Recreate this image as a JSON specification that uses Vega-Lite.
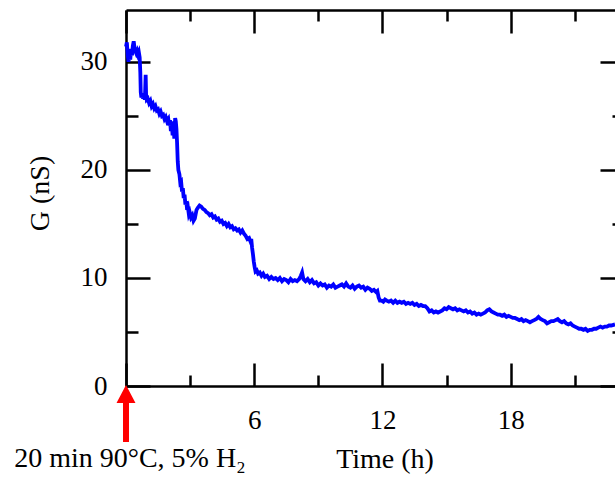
{
  "$schema": "https://vega.github.io/schema/vega-lite/v6.json",
  "width": 489,
  "height": 376,
  "autosize": {"type": "none"},
  "padding": {"left": 126, "top": 10, "right": 0, "bottom": 91},
  "background": "white",
  "config": {
    "view": {"stroke": null},
    "font": "Liberation Serif",
    "axis": {
      "grid": false,
      "domainColor": "black",
      "domainWidth": 2.5,
      "tickColor": "black",
      "tickWidth": 2.5,
      "labelColor": "black",
      "titleColor": "black",
      "labelFont": "Liberation Serif",
      "titleFont": "Liberation Serif",
      "labelFontSize": 27,
      "titleFontSize": 28,
      "titleFontWeight": "normal",
      "labelFlush": false,
      "labelOverlap": false
    }
  },
  "datasets": {
    "g": [
      {"t":0.00,"g":31.4},{"t":0.04,"g":31.8},{"t":0.08,"g":30.6},{"t":0.12,"g":30.0},{"t":0.16,"g":31.0},{"t":0.20,"g":30.2},{"t":0.24,"g":31.2},{"t":0.28,"g":30.6},{"t":0.32,"g":31.5},{"t":0.36,"g":31.9},{"t":0.40,"g":31.3},{"t":0.44,"g":31.0},{"t":0.48,"g":30.8},{"t":0.52,"g":31.0},{"t":0.56,"g":30.7},{"t":0.60,"g":30.9},{"t":0.64,"g":30.4},{"t":0.67,"g":29.0},{"t":0.69,"g":27.2},{"t":0.72,"g":26.7},{"t":0.76,"g":27.1},{"t":0.80,"g":26.6},{"t":0.84,"g":26.9},{"t":0.88,"g":26.5},{"t":0.90,"g":27.5},{"t":0.92,"g":28.8},{"t":0.94,"g":27.0},{"t":0.97,"g":26.5},
      {"t":1.02,"g":26.6},{"t":1.08,"g":26.2},{"t":1.14,"g":26.4},{"t":1.20,"g":25.9},{"t":1.26,"g":26.1},{"t":1.32,"g":25.7},{"t":1.38,"g":25.9},{"t":1.44,"g":25.5},{"t":1.50,"g":25.6},{"t":1.56,"g":25.2},{"t":1.62,"g":25.4},{"t":1.68,"g":25.0},{"t":1.74,"g":25.1},{"t":1.80,"g":24.7},{"t":1.86,"g":24.9},{"t":1.92,"g":24.5},{"t":1.98,"g":24.7},{"t":2.02,"g":24.1},{"t":2.06,"g":24.6},{"t":2.10,"g":23.6},{"t":2.14,"g":24.4},{"t":2.18,"g":23.2},{"t":2.22,"g":24.5},{"t":2.26,"g":22.9},{"t":2.30,"g":24.8},{"t":2.33,"g":24.5},{"t":2.36,"g":23.8},{"t":2.39,"g":22.5},{"t":2.42,"g":20.8},{"t":2.45,"g":20.0},{"t":2.50,"g":19.6},{"t":2.54,"g":18.8},{"t":2.58,"g":18.9},{"t":2.62,"g":18.0},{"t":2.66,"g":18.3},{"t":2.70,"g":17.4},{"t":2.74,"g":17.7},{"t":2.78,"g":16.8},{"t":2.82,"g":17.1},{"t":2.86,"g":16.3},{"t":2.90,"g":16.5},{"t":2.94,"g":15.9},{"t":2.98,"g":16.1},
      {"t":3.04,"g":15.6},{"t":3.10,"g":15.8},{"t":3.16,"g":15.3},{"t":3.22,"g":15.5},{"t":3.26,"g":15.9},{"t":3.30,"g":16.3},{"t":3.36,"g":16.5},{"t":3.44,"g":16.7},{"t":3.52,"g":16.6},{"t":3.60,"g":16.4},{"t":3.68,"g":16.3},{"t":3.76,"g":16.1},{"t":3.84,"g":16.0},{"t":3.92,"g":15.8},{"t":4.00,"g":15.9},{"t":4.08,"g":15.6},{"t":4.16,"g":15.7},{"t":4.24,"g":15.4},{"t":4.32,"g":15.5},{"t":4.40,"g":15.2},{"t":4.48,"g":15.3},{"t":4.56,"g":15.0},{"t":4.64,"g":15.1},{"t":4.72,"g":14.8},{"t":4.80,"g":15.0},{"t":4.88,"g":14.7},{"t":4.96,"g":14.8},{"t":5.04,"g":14.5},{"t":5.12,"g":14.6},{"t":5.20,"g":14.4},{"t":5.28,"g":14.5},{"t":5.36,"g":14.2},{"t":5.44,"g":14.4},{"t":5.52,"g":14.1},{"t":5.60,"g":13.9},{"t":5.68,"g":13.6},{"t":5.76,"g":13.7},{"t":5.82,"g":13.4},{"t":5.86,"g":13.6},{"t":5.90,"g":12.8},{"t":5.94,"g":12.2},{"t":5.98,"g":11.5},
      {"t":6.02,"g":11.0},{"t":6.06,"g":10.6},{"t":6.12,"g":10.7},{"t":6.18,"g":10.4},{"t":6.26,"g":10.5},{"t":6.34,"g":10.2},{"t":6.42,"g":10.4},{"t":6.50,"g":10.1},{"t":6.60,"g":10.2},{"t":6.70,"g":9.9},{"t":6.80,"g":10.1},{"t":6.90,"g":9.9},{"t":7.00,"g":10.0},{"t":7.10,"g":9.8},{"t":7.20,"g":10.0},{"t":7.30,"g":9.7},{"t":7.40,"g":9.9},{"t":7.50,"g":9.8},{"t":7.60,"g":9.6},{"t":7.70,"g":9.9},{"t":7.80,"g":9.7},{"t":7.90,"g":9.8},{"t":8.00,"g":9.7},{"t":8.10,"g":9.9},{"t":8.18,"g":10.2},{"t":8.24,"g":10.5},{"t":8.30,"g":9.9},{"t":8.40,"g":9.7},{"t":8.50,"g":9.9},{"t":8.60,"g":9.6},{"t":8.70,"g":9.8},{"t":8.80,"g":9.5},{"t":8.90,"g":9.6},
      {"t":9.00,"g":9.3},{"t":9.10,"g":9.5},{"t":9.20,"g":9.3},{"t":9.30,"g":9.4},{"t":9.40,"g":9.1},{"t":9.50,"g":9.3},{"t":9.60,"g":9.2},{"t":9.70,"g":9.4},{"t":9.80,"g":9.1},{"t":9.90,"g":9.2},{"t":10.00,"g":9.3},{"t":10.10,"g":9.4},{"t":10.20,"g":9.2},{"t":10.30,"g":9.5},{"t":10.40,"g":9.2},{"t":10.50,"g":9.1},{"t":10.60,"g":9.3},{"t":10.70,"g":9.0},{"t":10.80,"g":9.2},{"t":10.90,"g":9.3},{"t":11.00,"g":9.1},{"t":11.10,"g":9.2},{"t":11.20,"g":8.9},{"t":11.30,"g":9.1},{"t":11.40,"g":9.0},{"t":11.50,"g":8.8},{"t":11.60,"g":8.9},{"t":11.70,"g":8.7},{"t":11.76,"g":8.8},{"t":11.82,"g":8.2},{"t":11.88,"g":7.9},
      {"t":11.96,"g":7.9},{"t":12.04,"g":7.8},{"t":12.12,"g":8.0},{"t":12.20,"g":7.9},{"t":12.30,"g":7.8},{"t":12.40,"g":7.9},{"t":12.50,"g":7.7},{"t":12.60,"g":7.9},{"t":12.70,"g":7.7},{"t":12.80,"g":7.8},{"t":12.90,"g":7.7},{"t":13.00,"g":7.8},{"t":13.10,"g":7.6},{"t":13.20,"g":7.7},{"t":13.30,"g":7.6},{"t":13.40,"g":7.7},{"t":13.50,"g":7.5},{"t":13.60,"g":7.6},{"t":13.70,"g":7.4},{"t":13.80,"g":7.5},{"t":13.90,"g":7.4},
      {"t":14.00,"g":7.4},{"t":14.10,"g":7.2},{"t":14.20,"g":6.9},{"t":14.30,"g":7.0},{"t":14.40,"g":6.8},{"t":14.50,"g":6.9},{"t":14.60,"g":6.8},{"t":14.70,"g":6.9},{"t":14.80,"g":7.0},{"t":14.90,"g":7.2},{"t":15.00,"g":7.1},{"t":15.10,"g":7.3},{"t":15.20,"g":7.2},{"t":15.30,"g":7.1},{"t":15.40,"g":7.2},{"t":15.50,"g":7.0},{"t":15.60,"g":7.1},{"t":15.70,"g":7.0},{"t":15.80,"g":6.9},{"t":15.90,"g":7.0},{"t":16.00,"g":6.8},{"t":16.10,"g":6.9},{"t":16.20,"g":6.7},{"t":16.30,"g":6.8},{"t":16.40,"g":6.6},{"t":16.50,"g":6.7},{"t":16.60,"g":6.6},{"t":16.70,"g":6.7},{"t":16.80,"g":6.8},{"t":16.90,"g":7.0},{"t":17.00,"g":7.1},{"t":17.10,"g":6.9},{"t":17.20,"g":6.8},{"t":17.30,"g":6.7},{"t":17.40,"g":6.6},{"t":17.50,"g":6.6},{"t":17.60,"g":6.5},{"t":17.70,"g":6.6},{"t":17.80,"g":6.4},{"t":17.90,"g":6.5},
      {"t":18.00,"g":6.4},{"t":18.10,"g":6.3},{"t":18.20,"g":6.3},{"t":18.30,"g":6.2},{"t":18.40,"g":6.1},{"t":18.50,"g":6.2},{"t":18.60,"g":6.0},{"t":18.70,"g":6.1},{"t":18.80,"g":6.0},{"t":18.90,"g":5.9},{"t":19.00,"g":6.0},{"t":19.10,"g":6.1},{"t":19.20,"g":6.2},{"t":19.30,"g":6.4},{"t":19.40,"g":6.2},{"t":19.50,"g":6.1},{"t":19.60,"g":6.0},{"t":19.70,"g":5.8},{"t":19.80,"g":5.9},{"t":19.90,"g":6.0},{"t":20.00,"g":6.0},{"t":20.10,"g":6.1},{"t":20.20,"g":6.2},{"t":20.30,"g":6.0},{"t":20.40,"g":5.9},{"t":20.50,"g":6.0},{"t":20.60,"g":5.8},{"t":20.70,"g":5.7},{"t":20.80,"g":5.8},{"t":20.90,"g":5.6},{"t":21.00,"g":5.5},{"t":21.10,"g":5.4},{"t":21.20,"g":5.3},{"t":21.30,"g":5.3},{"t":21.40,"g":5.2},{"t":21.50,"g":5.3},{"t":21.60,"g":5.1},{"t":21.70,"g":5.2},{"t":21.80,"g":5.2},{"t":21.90,"g":5.3},{"t":22.00,"g":5.3},{"t":22.10,"g":5.4},{"t":22.20,"g":5.5},{"t":22.30,"g":5.4},{"t":22.40,"g":5.5},{"t":22.50,"g":5.5},{"t":22.60,"g":5.6},{"t":22.70,"g":5.6},{"t":22.88,"g":5.7}
    ],
    "note": [{"t": 0, "label": "20 min 90°C, 5% H₂"}]
  },
  "layer": [
    {
      "data": {"name": "g"},
      "mark": {"type": "line", "color": "#0000ff", "strokeWidth": 3.8},
      "encoding": {
        "x": {
          "field": "t", "type": "quantitative",
          "scale": {"domain": [0, 22.88], "nice": false, "zero": false},
          "axis": {
            "orient": "bottom",
            "values": [0, 3, 6, 9, 12, 15, 18, 21],
            "labelExpr": "datum.value % 6 === 0 && datum.value > 0 ? datum.label : ''",
            "tickSize": {"condition": {"test": "datum.value % 6 === 0", "value": -23}, "value": -11},
            "labelPadding": 65,
            "labelBaseline": "alphabetic",
            "title": "Time (h)",
            "titleX": 258.5,
            "titleY": 81,
            "titleAlign": "center",
            "titleBaseline": "alphabetic"
          }
        },
        "y": {
          "field": "g", "type": "quantitative",
          "scale": {"domain": [0, 34.8], "nice": false, "zero": false},
          "axis": {
            "orient": "left",
            "values": [0, 5, 10, 15, 20, 25, 30],
            "labelExpr": "datum.value % 10 === 0 ? datum.label : ''",
            "tickSize": {"condition": {"test": "datum.value % 10 === 0", "value": -24}, "value": -12},
            "labelPadding": 43,
            "title": "G (nS)",
            "titleX": -86,
            "titleY": 183,
            "titleAngle": 270,
            "titleAlign": "center",
            "titleBaseline": "middle"
          }
        }
      }
    },
    {
      "data": {"name": "g"},
      "mark": {"type": "line", "opacity": 0},
      "encoding": {
        "x": {
          "field": "t", "type": "quantitative",
          "scale": {"domain": [0, 22.88], "nice": false, "zero": false},
          "axis": {
            "orient": "top",
            "values": [0, 3, 6, 9, 12, 15, 18, 21],
            "labels": false,
            "tickSize": {"condition": {"test": "datum.value % 6 === 0", "value": -23}, "value": -11},
            "title": null
          }
        },
        "y": {
          "field": "g", "type": "quantitative",
          "scale": {"domain": [0, 34.8], "nice": false, "zero": false},
          "axis": {
            "orient": "right",
            "offset": 9,
            "values": [0, 5, 10, 15, 20, 25, 30],
            "labels": false,
            "tickSize": {"condition": {"test": "datum.value % 10 === 0", "value": -24}, "value": -12},
            "title": null
          }
        }
      }
    },
    {
      "data": {"name": "note"},
      "mark": {
        "type": "point",
        "shape": "M0,-1L0.333,-0.37L0.105,-0.37L0.105,1L-0.105,1L-0.105,-0.37L-0.333,-0.37Z",
        "size": 3249,
        "filled": true,
        "color": "#ff0000",
        "opacity": 1,
        "strokeWidth": 0
      },
      "encoding": {
        "x": {"field": "t", "type": "quantitative", "axis": null, "scale": {"domain": [0, 22.88], "nice": false, "zero": false}},
        "y": {"datum": -2.55, "type": "quantitative", "axis": null, "scale": {"domain": [0, 34.8], "nice": false, "zero": false}}
      }
    },
    {
      "data": {"name": "note"},
      "mark": {"type": "text", "font": "Liberation Serif", "fontSize": 28, "align": "center", "baseline": "alphabetic", "dx": 4, "color": "black"},
      "encoding": {
        "x": {"field": "t", "type": "quantitative", "axis": null, "scale": {"domain": [0, 22.88], "nice": false, "zero": false}},
        "y": {"datum": -7.5, "type": "quantitative", "axis": null, "scale": {"domain": [0, 34.8], "nice": false, "zero": false}},
        "text": {"field": "label"}
      }
    }
  ],
  "resolve": {"axis": {"x": "independent", "y": "independent"}}
}
